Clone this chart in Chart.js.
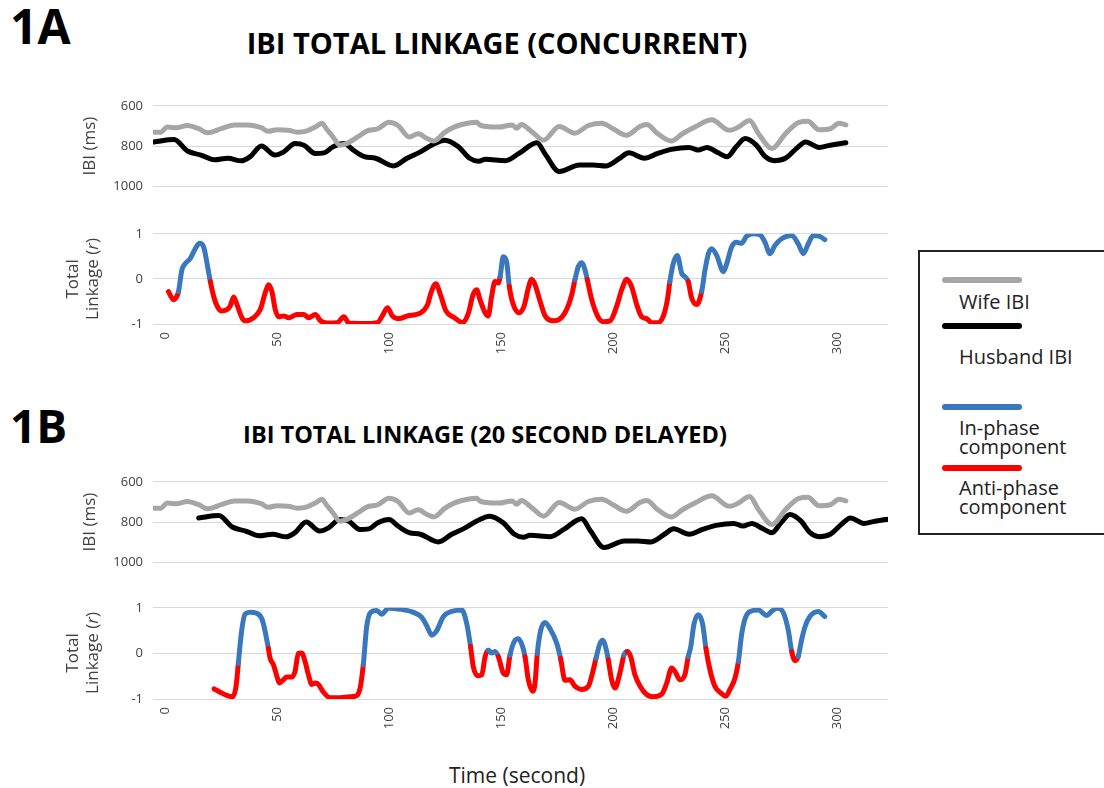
<!DOCTYPE html>
<html>
<head>
<meta charset="utf-8">
<title>IBI Total Linkage</title>
<script src="https://cdn.jsdelivr.net/npm/chart.js@4/dist/chart.umd.min.js"></script>
<style>
  body { margin: 0; width: 1104px; height: 788px; background: #fff; position: relative; overflow: hidden;
         font-family: "Open Sans", "Liberation Sans", sans-serif; color: #000; }
  .abs { position: absolute; }
  .panel-tag { font-weight: 700; line-height: 1; }
  .panel-title { font-weight: 700; line-height: 1; transform: translateX(-50%); white-space: nowrap; }
  .ytitle { font-size: 17px; line-height: 20px; text-align: center; color: #404040; white-space: nowrap;
            transform: translate(-50%, -50%) rotate(-90deg); }
  .legend { left: 918px; top: 250px; width: 220px; height: 285px; border: 2px solid #222; box-sizing: border-box; }
  .swatch { position: absolute; left: 22px; width: 80px; height: 6px; border-radius: 3px; }
  .ltext { position: absolute; left: 39px; font-size: 20px; line-height: 19px; color: #222; }
</style>
</head>
<body>

<div class="abs panel-tag" style="left:10px; top:2px; font-size:48px;">1A</div>
<div class="abs panel-title" style="left:497px; top:28px; font-size:29px;">IBI TOTAL LINKAGE (CONCURRENT)</div>
<div class="abs panel-tag" style="left:10px; top:402px; font-size:46px;">1B</div>
<div class="abs panel-title" style="left:485px; top:423px; font-size:23.5px;">IBI TOTAL LINKAGE (20 SECOND DELAYED)</div>

<div class="abs" style="left:0; top:88px;"><canvas id="ibiA" width="900" height="116"></canvas></div>
<div class="abs" style="left:0; top:216px;"><canvas id="linkA" width="900" height="152"></canvas></div>
<div class="abs" style="left:0; top:464px;"><canvas id="ibiB" width="900" height="116"></canvas></div>
<div class="abs" style="left:0; top:590px;"><canvas id="linkB" width="900" height="153"></canvas></div>

<div class="abs ytitle" style="left:89px; top:146px;">IBI (ms)</div>
<div class="abs ytitle" style="left:82px; top:279px;">Total<br>Linkage (<i>r</i>)</div>
<div class="abs ytitle" style="left:89px; top:522px;">IBI (ms)</div>
<div class="abs ytitle" style="left:82px; top:653px;">Total<br>Linkage (<i>r</i>)</div>

<div class="abs" style="left:517px; top:775px; transform:translate(-50%,-50%); font-size:21px; color:#222; white-space:nowrap;">Time (second)</div>

<div class="abs legend">
  <div class="swatch" style="top:25px; background:#a6a6a6;"></div>
  <div class="ltext" style="top:40px;">Wife IBI</div>
  <div class="swatch" style="top:71px; background:#000;"></div>
  <div class="ltext" style="top:95px;">Husband IBI</div>
  <div class="swatch" style="top:152px; background:#3a78bd;"></div>
  <div class="ltext" style="top:166px;">In-phase<br>component</div>
  <div class="swatch" style="top:213px; background:#ff0000;"></div>
  <div class="ltext" style="top:226px;">Anti-phase<br>component</div>
</div>

<script>
// --- 1. DATA ---
const xTickLabels = [0, 50, 100, 150, 200, 250, 300];
const ibiTicks = [600, 800, 1000];
const linkTicks = [-1, 0, 1];
const lagSeconds = 20;

const wifeTime = [-5, -2, 1, 5, 10, 15, 19, 25, 31, 37, 43, 46, 50, 55, 59, 63, 67, 70, 72, 75, 78, 81, 86, 90, 95,
  100, 104, 109, 113, 117, 120, 125, 129, 135, 139, 141, 149, 155, 157, 159, 164, 169, 176, 183, 189, 195, 200,
  206, 212, 215, 220, 226, 231, 237, 244, 252, 256, 261, 265, 271, 277, 283, 287, 292, 297, 301, 304];
const wifeIBI = [731, 731, 706, 709, 698, 714, 734, 714, 695, 695, 709, 727, 719, 722, 731, 726, 706, 687, 714, 755,
  796, 788, 755, 726, 714, 682, 698, 755, 739, 763, 775, 731, 706, 687, 682, 698, 706, 695, 712, 693, 731, 771,
  703, 736, 698, 687, 714, 747, 703, 693, 739, 775, 739, 703, 670, 722, 706, 673, 739, 812, 739, 682, 677, 719,
  714, 687, 695];

const husbandTime = [-5, 4, 10, 16, 22, 28, 34, 38, 43, 49, 53, 58, 62, 67, 71, 75, 80, 84, 89, 94, 102, 108, 114,
  119, 125, 131, 136, 140, 143, 152, 158, 166, 170, 176, 185, 191, 197, 203, 207, 214, 220, 226, 234, 238, 242,
  247, 251, 255, 259, 264, 268, 272, 277, 282, 286, 292, 297, 304];
const husbandIBI = [780, 768, 825, 845, 869, 861, 874, 853, 800, 845, 829, 788, 796, 837, 834, 804, 788, 820, 853,
  861, 899, 861, 829, 796, 771, 804, 861, 876, 866, 873, 837, 784, 845, 927, 894, 894, 899, 861, 834, 861, 837,
  817, 807, 820, 807, 834, 853, 804, 763, 796, 853, 873, 861, 812, 780, 807, 796, 784];

const linkATime = [1.5, 3.7, 5.2, 6, 7.5, 9, 11.2, 13.5, 15.4, 17.2, 19, 20.2, 21.7, 23.2, 25, 27.6, 29.1, 30.6, 32.1,
  34.3, 35.8, 39.5, 42.5, 44.7, 46.2, 47.7, 49.2, 50.7, 52.9, 55.2, 58.9, 61.9, 64.1, 67.1, 69.4, 72.4, 76.9, 79.8,
  82.1, 88.8, 94.8, 97, 99.3, 101.5, 104.5, 108.2, 114.2, 117.2, 118.7, 120.9, 123.2, 125.4, 129.2, 132.9, 135.5,
  137.5, 139.1, 140.6, 142.9, 144.3, 145.8, 147.3, 148.8, 149.6, 151, 152.5, 153.7, 155.5, 158.2, 160.3, 162.2,
  163.7, 165.2, 167.4, 169.6, 173.4, 176.3, 179.3, 181.6, 183, 184.5, 186, 187.5, 188.5, 190.5, 193.5, 195.7,
  198.7, 201.7, 203.9, 206.1, 208.3, 210.6, 212.8, 215, 217.3, 220.2, 222.5, 224.3, 225.4, 226.9, 228.7, 230.7,
  232.1, 233.6, 235.1, 237.4, 239.6, 241.1, 242.6, 244.1, 246.3, 249.3, 250.8, 253, 255.2, 257.4, 259.7, 262.6,
  265.6, 267.9, 270.1, 272.3, 275.3, 279.8, 282.7, 285, 287.2, 289.4, 292.4, 294.6];
const linkAValue = [-0.28, -0.46, -0.39, -0.28, 0.20, 0.34, 0.45, 0.67, 0.79, 0.71, 0.27, -0.06, -0.39, -0.60, -0.71,
  -0.68, -0.60, -0.40, -0.57, -0.86, -0.93, -0.86, -0.68, -0.31, -0.13, -0.28, -0.68, -0.84, -0.82, -0.86, -0.79,
  -0.79, -0.86, -0.79, -0.93, -0.98, -0.97, -0.84, -0.98, -0.99, -0.97, -0.82, -0.64, -0.82, -0.88, -0.82, -0.75,
  -0.57, -0.31, -0.11, -0.39, -0.71, -0.86, -0.97, -0.75, -0.35, -0.24, -0.46, -0.75, -0.82, -0.39, -0.06, -0.09,
  0.05, 0.49, 0.38, -0.17, -0.57, -0.75, -0.60, -0.20, -0.01, -0.13, -0.49, -0.81, -0.93, -0.89, -0.68, -0.35,
  -0.02, 0.27, 0.36, 0.20, -0.01, -0.46, -0.86, -0.95, -0.93, -0.60, -0.24, -0.01, -0.17, -0.57, -0.84, -0.88,
  -0.97, -0.97, -0.82, -0.46, -0.06, 0.34, 0.52, 0.12, 0.05, -0.06, -0.42, -0.57, -0.28, 0.20, 0.56, 0.67, 0.52,
  0.16, 0.34, 0.71, 0.81, 0.79, 0.95, 1.00, 0.98, 0.81, 0.56, 0.74, 0.89, 0.96, 0.78, 0.56, 0.78, 0.96, 0.94, 0.87];
const inPhaseA = [[6, 20.2], [149.6, 153.7], [183, 188.5], [225.4, 233.6], [239.6, 295]];

const linkBTime = [21.9, 24.6, 27.5, 30.2, 31.7, 32.7, 34.2, 35.7, 37.9, 40.9, 43.2, 44.6, 46.1, 46.9, 48.4, 49.9,
  51, 52.8, 54.3, 56.5, 58, 59.5, 61, 62.5, 64, 65.5, 67, 68.5, 70.7, 73.7, 78.1, 82.6, 84.8, 87.1, 88.5, 90, 91.8,
  94.5, 96.7, 99.7, 104.9, 110.9, 114.6, 116.8, 119.1, 121.3, 124.3, 128, 132.5, 134.7, 136.4, 137.6, 139.9, 141.4,
  142.9, 144.3, 145.8, 147.3, 148.8, 151, 152.5, 154, 155.8, 157.7, 159.7, 160.7, 162.2, 164.1, 165.2, 166.2,
  167.7, 169.6, 171.9, 174.9, 176.6, 178.6, 180.8, 183, 186, 189, 191.2, 192.4, 194.2, 195.4, 197.2, 197.9,
  199.4, 200.9, 203.1, 204.9, 206.4, 207.9, 209.8, 212.1, 215, 218, 221.7, 224, 226.2, 227.7, 229.9, 232.1,
  233.6, 234.7, 236.2, 238.1, 240, 241.5, 243.3, 245.5, 248.5, 250.4, 252.2, 254.5, 256, 257.4, 258.9, 261.2,
  264.9, 268.6, 270.8, 273.1, 276, 278.3, 279.8, 281.3, 282.7, 284.2, 285.7, 287.9, 291.7, 294.6];
const linkBValue = [-0.78, -0.85, -0.92, -0.95, -0.72, -0.22, 0.50, 0.86, 0.90, 0.88, 0.76, 0.50, 0.11, -0.11,
  -0.25, -0.50, -0.65, -0.58, -0.52, -0.52, -0.40, 0.00, 0.01, -0.18, -0.47, -0.68, -0.65, -0.68, -0.85, -0.97,
  -0.97, -0.95, -0.94, -0.76, -0.25, 0.58, 0.90, 0.94, 0.86, 0.99, 0.97, 0.90, 0.79, 0.61, 0.40, 0.50, 0.81, 0.92,
  0.95, 0.65, 0.15, -0.29, -0.49, -0.47, -0.07, 0.07, 0.01, 0.04, -0.07, -0.43, -0.47, -0.04, 0.25, 0.32, 0.14,
  -0.07, -0.58, -0.83, -0.65, 0.00, 0.50, 0.68, 0.54, 0.22, -0.11, -0.59, -0.58, -0.72, -0.79, -0.72, -0.36,
  -0.11, 0.22, 0.29, 0.04, -0.14, -0.58, -0.76, -0.43, -0.04, 0.04, -0.07, -0.47, -0.72, -0.90, -0.95, -0.90,
  -0.65, -0.32, -0.40, -0.58, -0.47, -0.07, 0.14, 0.65, 0.85, 0.65, 0.11, -0.36, -0.72, -0.88, -0.94, -0.79,
  -0.54, -0.18, 0.40, 0.75, 0.92, 0.95, 0.83, 0.92, 0.99, 0.90, 0.50, 0.04, -0.16, -0.07, 0.29, 0.58, 0.81,
  0.92, 0.81];
const inPhaseB = [[32.7, 46.1], [88.5, 136.4], [144.3, 148.8], [154, 160.7], [166.2, 176.6], [192.4, 197.9],
  [204.9, 206.4], [233.6, 241.5], [256, 279.8], [282.7, 295]];

// --- 2. STYLE ---
const BLUE = '#3a78bd';
const RED = '#ff0000';
const GRAY = '#a6a6a6';
const BLACK = '#000000';
const GRID = '#d9d9d9';
const TICK_FONT = { family: '"Open Sans", sans-serif', size: 13 };
const X_MIN = -5.4, X_MAX = 322.8;

Chart.defaults.animation = false;
Chart.defaults.color = '#404040';

function pairs(times, values, shift) {
  return times.map((t, i) => ({ x: t + (shift || 0), y: values[i] }));
}

function phaseColour(intervals) {
  return ctx => {
    const mid = (ctx.p0.parsed.x + ctx.p1.parsed.x) / 2;
    return intervals.some(([a, b]) => mid >= a && mid <= b) ? BLUE : RED;
  };
}

function line(data, colour, extra) {
  return Object.assign({
    data: data,
    borderColor: colour,
    borderWidth: 5,
    pointRadius: 0,
    tension: 0.3,
    cubicInterpolationMode: 'monotone',
    borderCapStyle: 'round',
    borderJoinStyle: 'round',
    fill: false
  }, extra || {});
}

function xScale(showLabels) {
  return {
    type: 'linear',
    min: X_MIN,
    max: X_MAX,
    display: showLabels,
    grid: { display: false, drawTicks: false },
    border: { display: false },
    afterBuildTicks: s => { s.ticks = xTickLabels.map(v => ({ value: v })); },
    afterFit: s => { if (showLabels) s.height = 44; },
    ticks: { font: TICK_FONT, minRotation: 90, maxRotation: 90, padding: 8, callback: v => String(v) }
  };
}

function yScale(tickValues, reverse) {
  return {
    type: 'linear',
    min: tickValues[0],
    max: tickValues[tickValues.length - 1],
    reverse: reverse,
    grid: { color: GRID, lineWidth: 1, drawTicks: false },
    border: { display: false },
    afterBuildTicks: s => { s.ticks = tickValues.map(v => ({ value: v })); },
    afterFit: s => { s.width = 153; },
    ticks: { font: TICK_FONT, padding: 10, callback: v => String(v) }
  };
}

function makeChart(id, datasets, yTicks, reverse, showX) {
  return new Chart(document.getElementById(id), {
    type: 'line',
    data: { datasets: datasets },
    options: {
      responsive: false,
      layout: { padding: { top: 0, bottom: 0, left: 0, right: 12 } },
      scales: { x: xScale(showX), y: yScale(yTicks, reverse) },
      plugins: { legend: { display: false }, tooltip: { enabled: false } }
    }
  });
}

// --- 3. CHARTS ---
makeChart('ibiA', [
  line(pairs(wifeTime, wifeIBI), GRAY, { tension: 0.2 }),
  line(pairs(husbandTime, husbandIBI), BLACK, { tension: 0.2 })
], ibiTicks, true, false);

makeChart('linkA', [
  line(pairs(linkATime, linkAValue), RED, { segment: { borderColor: phaseColour(inPhaseA) } })
], linkTicks, false, true);

makeChart('ibiB', [
  line(pairs(wifeTime, wifeIBI), GRAY, { tension: 0.2 }),
  line(pairs(husbandTime, husbandIBI, lagSeconds), BLACK, { tension: 0.2 })
], ibiTicks, true, false);

makeChart('linkB', [
  line(pairs(linkBTime, linkBValue), RED, { segment: { borderColor: phaseColour(inPhaseB) } })
], linkTicks, false, true);
</script>
</body>
</html>
